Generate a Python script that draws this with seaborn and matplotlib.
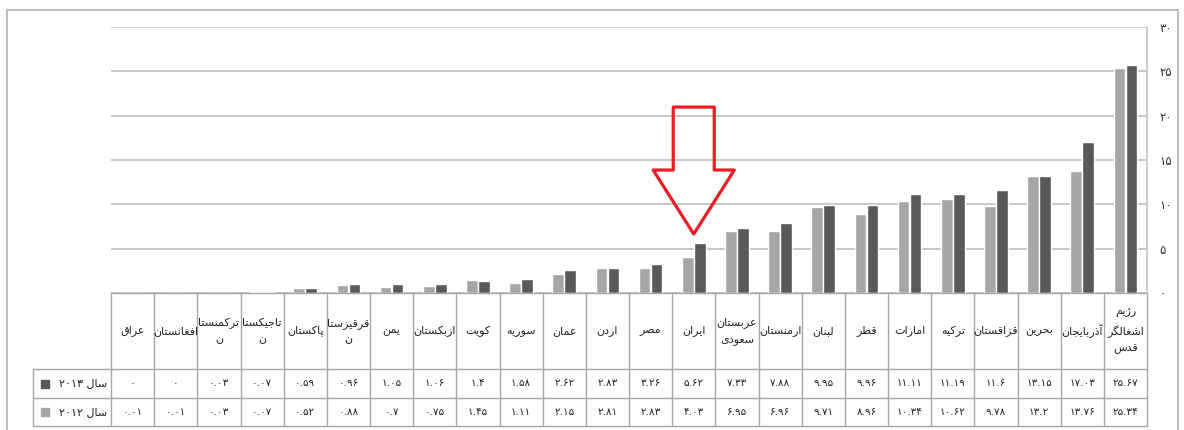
import matplotlib
matplotlib.use("Agg")
import matplotlib.pyplot as plt
import matplotlib.transforms as mtransforms
from matplotlib.patches import Polygon, Rectangle
import pandas as pd
import seaborn as sns

# Data
countries = ["عراق", "افغانستان", "ترکمنستان", "تاجیکستان", "پاکستان", "قرقیزستان",
             "یمن", "ازبکستان", "کویت", "سوریه", "عمان", "اردن", "مصر", "ایران",
             "عربستان سعودی", "ارمنستان", "لبنان", "قطر", "امارات", "ترکیه",
             "قزاقستان", "بحرین", "آذربایجان", "رژیم اشغالگر قدس"]
header_labels = ["عراق", "افغانستان", "ترکمنستا\nن", "تاجیکستا\nن", "پاکستان", "قرقیزستا\nن",
                 "یمن", "ازبکستان", "کویت", "سوریه", "عمان", "اردن", "مصر", "ایران",
                 "عربستان\nسعودی", "ارمنستان", "لبنان", "قطر", "امارات", "ترکیه",
                 "قزاقستان", "بحرین", "آذربایجان", "رژیم\nاشغالگر\nقدس"]
values_2013 = [0, 0, 0.03, 0.07, 0.59, 0.96, 1.05, 1.06, 1.4, 1.58, 2.62, 2.83, 3.26,
               5.62, 7.33, 7.88, 9.95, 9.96, 11.11, 11.19, 11.6, 13.15, 17.03, 25.67]
values_2012 = [0.01, 0.01, 0.03, 0.07, 0.52, 0.88, 0.7, 0.75, 1.45, 1.11, 2.15, 2.81, 2.83,
               4.03, 6.95, 6.96, 9.71, 8.96, 10.34, 10.62, 9.78, 13.2, 13.76, 25.34]
years = ["2012", "2013"]
year_labels = {"2013": "سال ۲۰۱۳", "2012": "سال ۲۰۱۲"}
yticks = [0, 5, 10, 15, 20, 25, 30]
highlight = "ایران"

colors = {"2012": "#a6a6a6", "2013": "#595959"}

# --- minimal Persian shaping (matplotlib has no text shaping) ---
FORMS = {
    "ا": (0xFE8D, 0xFE8E), "آ": (0xFE81, 0xFE82), "د": (0xFEA9, 0xFEAA),
    "ذ": (0xFEAB, 0xFEAC), "ر": (0xFEAD, 0xFEAE), "ز": (0xFEAF, 0xFEB0),
    "ژ": (0xFB8A, 0xFB8B), "و": (0xFEED, 0xFEEE),
    "ب": (0xFE8F, 0xFE90, 0xFE91, 0xFE92), "پ": (0xFB56, 0xFB57, 0xFB58, 0xFB59),
    "ت": (0xFE95, 0xFE96, 0xFE97, 0xFE98), "ج": (0xFE9D, 0xFE9E, 0xFE9F, 0xFEA0),
    "ح": (0xFEA1, 0xFEA2, 0xFEA3, 0xFEA4), "س": (0xFEB1, 0xFEB2, 0xFEB3, 0xFEB4),
    "ش": (0xFEB5, 0xFEB6, 0xFEB7, 0xFEB8), "ص": (0xFEB9, 0xFEBA, 0xFEBB, 0xFEBC),
    "ط": (0xFEC1, 0xFEC2, 0xFEC3, 0xFEC4), "ع": (0xFEC9, 0xFECA, 0xFECB, 0xFECC),
    "غ": (0xFECD, 0xFECE, 0xFECF, 0xFED0), "ف": (0xFED1, 0xFED2, 0xFED3, 0xFED4),
    "ق": (0xFED5, 0xFED6, 0xFED7, 0xFED8), "ک": (0xFB8E, 0xFB8F, 0xFB90, 0xFB91),
    "گ": (0xFB92, 0xFB93, 0xFB94, 0xFB95), "ل": (0xFEDD, 0xFEDE, 0xFEDF, 0xFEE0),
    "م": (0xFEE1, 0xFEE2, 0xFEE3, 0xFEE4), "ن": (0xFEE5, 0xFEE6, 0xFEE7, 0xFEE8),
    "ه": (0xFEE9, 0xFEEA, 0xFEEB, 0xFEEC), "ی": (0xFBFC, 0xFBFD, 0xFBFE, 0xFBFF),
}


def shape(word):
    word = word.replace("ك", "ک").replace("ي", "ی")
    out = []
    for i, ch in enumerate(word):
        f = FORMS.get(ch)
        if f is None:
            out.append(ch)
            continue
        prev = word[i - 1] if i > 0 else None
        nxt = word[i + 1] if i < len(word) - 1 else None
        jp = prev in FORMS and len(FORMS[prev]) == 4
        jn = len(f) == 4 and nxt in FORMS
        if jp and jn:
            out.append(chr(f[3]))
        elif jp:
            out.append(chr(f[1]))
        elif jn:
            out.append(chr(f[2]))
        else:
            out.append(chr(f[0]))
    return "".join(out)


def fa(text):
    lines = []
    for line in text.split("\n"):
        vis = []
        for tok in reversed(line.split(" ")):
            if any(c in FORMS for c in tok):
                vis.append(shape(tok)[::-1])
            else:
                vis.append(tok)
        lines.append(" ".join(vis))
    return "\n".join(lines)


DIGITS = str.maketrans("0123456789", "۰۱۲۳۴۵۶۷۸۹")


def fa_num(v):
    return f"{v:g}".translate(DIGITS)


sns.set_style("white")
plt.rcParams["font.family"] = ["DejaVu Sans", "Noto Sans"]

df = pd.DataFrame({
    "country": countries * 2,
    "year": ["2012"] * len(countries) + ["2013"] * len(countries),
    "value": values_2012 + values_2013,
})

W, H = 1184, 430
fig = plt.figure(figsize=(W / 100, H / 100), dpi=100)
ax = fig.add_axes([111 / W, (H - 293) / H, (1147 - 111) / W, 266 / H])

sns.barplot(data=df, x="country", y="value", hue="year", order=countries,
            hue_order=years, palette=colors, saturation=1, width=0.56, gap=0.04,
            legend=False, ax=ax)

ax.set_xlim(-0.5, len(countries) - 0.5)
ax.set_ylim(0, 30)
ax.set_yticks(yticks)
ax.set_yticklabels([fa_num(t) for t in yticks], fontsize=8.5, color="#333333")
ax.yaxis.tick_right()
ax.tick_params(axis="y", length=0, pad=9)
ax.tick_params(axis="x", length=0, labelbottom=False)
ax.set_xlabel("")
ax.set_ylabel("")
ax.yaxis.grid(True, color="#c4c4c4", lw=1.3)
ax.set_axisbelow(True)
for s in ["left", "top", "bottom"]:
    ax.spines[s].set_visible(False)
ax.spines["right"].set_color("#c4c4c4")
ax.spines["right"].set_linewidth(1.2)

# data table under the plot
trans = mtransforms.blended_transform_factory(ax.transData, ax.transAxes)
n = len(countries)
px = 266 / 30 / 8.87  # axes fraction helpers
r0, r1, r2, r3 = 0.0, -(369 - 293) / 266, -(398 - 293) / 266, -(426 - 293) / 266
left_edge = -0.5 - (111 - 33) / ((1147 - 111) / n)
line_kw = dict(color="#a6a6a6", lw=1.0, transform=trans, clip_on=False)

ax.plot([-0.5, n - 0.5], [r0, r0], **line_kw)
for r in (r1, r2, r3):
    ax.plot([left_edge, n - 0.5], [r, r], **line_kw)
for i in range(n + 1):
    ax.plot([i - 0.5, i - 0.5], [r0, r3], **line_kw)
ax.plot([left_edge, left_edge], [r1, r3], **line_kw)

for i, lab in enumerate(header_labels):
    ax.text(i, (r0 + r1) / 2, fa(lab), transform=trans, ha="center", va="center",
            fontsize=8, linespacing=1.7, color="#222222")
    ax.text(i, (r1 + r2) / 2, fa_num(values_2013[i]), transform=trans,
            ha="center", va="center", fontsize=7.5, color="#222222")
    ax.text(i, (r2 + r3) / 2, fa_num(values_2012[i]), transform=trans,
            ha="center", va="center", fontsize=7.5, color="#222222")

for yr, (ra, rb) in [("2013", (r1, r2)), ("2012", (r2, r3))]:
    ax.text(-0.58, (ra + rb) / 2, fa(year_labels[yr]), transform=trans,
            ha="right", va="center", fontsize=8, color="#222222")
    ax.plot([left_edge + 0.28], [(ra + rb) / 2], marker="s", ms=6,
            color=colors[yr], transform=trans, clip_on=False)

# red outline arrow pointing at Iran
xi = countries.index(highlight)
arrow = Polygon([(xi - 0.475, 20.97), (xi + 0.475, 20.97), (xi + 0.475, 13.87),
                 (xi + 0.94, 13.87), (xi, 6.65), (xi - 0.94, 13.87),
                 (xi - 0.475, 13.87)], closed=True, fill=False,
                edgecolor="#ec1c24", lw=2.3, joinstyle="round", clip_on=False,
                zorder=5)
ax.add_patch(arrow)

# outer frame
fig.patches.append(Rectangle((7 / W, -0.02), (1178 - 7) / W, 1.02 - 10 / H - 0.0,
                             transform=fig.transFigure, fill=False,
                             edgecolor="#b0b0b0", lw=1.2))

fig.savefig("out.png", dpi=100, facecolor="white")
